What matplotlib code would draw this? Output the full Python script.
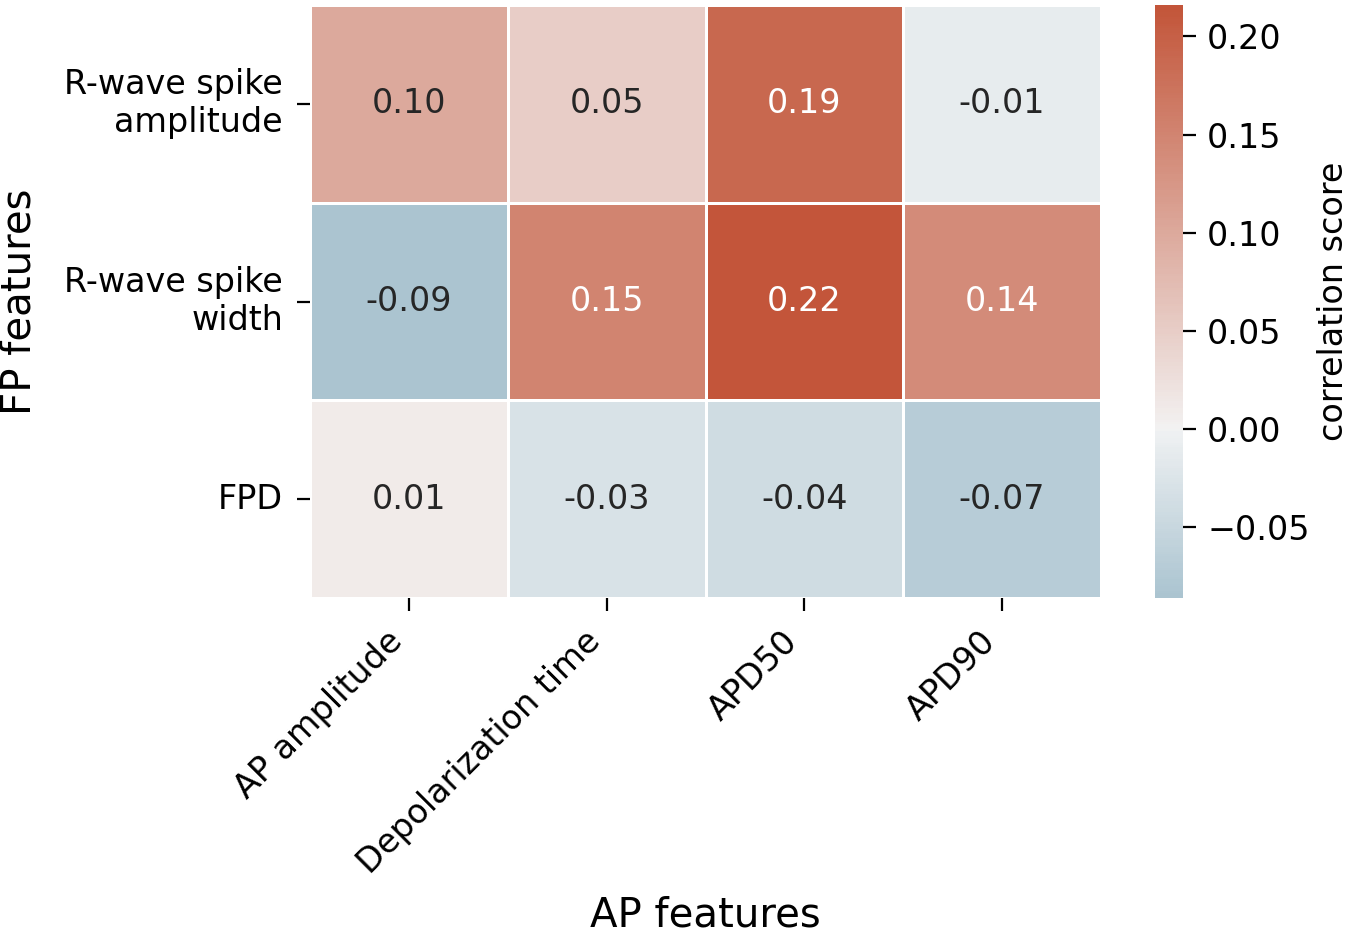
import matplotlib
matplotlib.use("Agg")
import matplotlib.pyplot as plt
import seaborn as sns
import numpy as np
import pandas as pd

row_labels = ["R-wave spike\namplitude", "R-wave spike\nwidth", "FPD"]
col_labels = ["AP amplitude", "Depolarization time", "APD50", "APD90"]
row1 = [0.10, 0.05, 0.19, -0.01]
row2 = [-0.086, 0.15, 0.216, 0.14]
row3 = [0.01, -0.03, -0.04, -0.07]

df = pd.DataFrame([row1, row2, row3], index=row_labels, columns=col_labels)

plt.rcParams['font.family'] = ['DejaVu Sans']
fig = plt.figure(figsize=(6.75, 4.675), dpi=200)
ax = fig.add_axes([310/1350, 1-598/935, (1101-310)/1350, (598-5)/935])
cax = fig.add_axes([1155/1350, 1-598/935, 28/1350, (598-5)/935])
cmap = sns.diverging_palette(230, 20, as_cmap=True)
sns.heatmap(df, cmap=cmap, center=0, annot=True, fmt=".2f", linewidths=0.5,
            linecolor="white", ax=ax, cbar_ax=cax,
            annot_kws={"fontsize": 12},
            cbar_kws={"label": "correlation score"})
ax.set_xlabel("AP features", fontsize=14.5, labelpad=5.5)
ax.set_ylabel("FP features", fontsize=14.5, labelpad=9)
ax.tick_params(axis='both', labelsize=12, length=4.7, pad=5)
plt.setp(ax.get_xticklabels(), rotation=45, ha="right")
plt.setp(ax.get_yticklabels(), rotation=0)
cax.tick_params(labelsize=12, length=4.7, pad=4)
cax.set_ylabel("correlation score", fontsize=12, labelpad=2.5)
fig.savefig("out.png", dpi=200)
